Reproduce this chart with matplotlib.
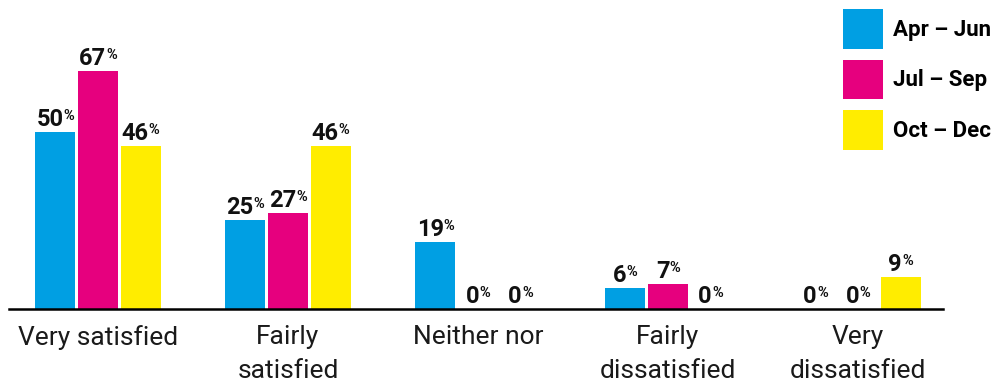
import matplotlib
matplotlib.use("Agg")
import matplotlib.pyplot as plt
from matplotlib.patches import Patch
import numpy as np

plt.rcParams['font.family'] = ['Roboto', 'DejaVu Sans']

# data
categories = ["Very satisfied", "Fairly\nsatisfied", "Neither nor", "Fairly\ndissatisfied", "Very\ndissatisfied"]
quarters = ["Apr \u2013 Jun", "Jul \u2013 Sep", "Oct \u2013 Dec"]
apr_jun = [50, 25, 19, 6, 0]
jul_sep = [67, 27, 0, 7, 0]
oct_dec = [46, 46, 0, 0, 9]
colours = ["#009FE3", "#E6007E", "#FFED00"]

series = [apr_jun, jul_sep, oct_dec]

fig = plt.figure(figsize=(10.08, 3.82), dpi=100)
# axes runs from the top of the figure down to the baseline
ax = fig.add_axes([0, 73 / 382, 1, 309 / 382])

x = np.arange(len(categories))
width = 0.21
step = 0.224

texts = []
for i, vals in enumerate(series):
    xs = x + (i - 1) * step
    ax.bar(xs, vals, width=width, color=colours[i], linewidth=0)
    for xx, v in zip(xs, vals):
        tn = ax.annotate(str(v), (xx, v), xytext=(0, 6), textcoords="offset pixels",
                         ha="center", va="baseline", fontsize=17, fontweight="bold",
                         color="#111111")
        tp = ax.annotate("%", (xx, v), xytext=(0, 13), textcoords="offset pixels",
                         ha="left", va="baseline", fontsize=10.5, fontweight="bold",
                         color="#111111")
        texts.append((tn, tp))

ax.set_xlim(-98 / 190, (1008 - 98) / 190)
ax.set_ylim(0, 309 / 3.55)

ax.axhline(0, xmin=9 / 1008, xmax=943 / 1008, color="black", lw=1.8, clip_on=False)

for s in ax.spines.values():
    s.set_visible(False)
ax.set_yticks([])
ax.set_xticks(x)
ax.set_xticklabels(categories, fontsize=19, fontweight="normal", color="#1a1a1a",
                   linespacing=1.55)
ax.tick_params(axis="x", length=0, pad=11.5)

# centre the number + superscript % together over each bar
fig.canvas.draw()
r = fig.canvas.get_renderer()
for tn, tp in texts:
    nw = tn.get_window_extent(r).width
    pw = tp.get_window_extent(r).width
    tn.xyann = (-pw / 2, 6)
    tp.xyann = ((nw - pw) / 2, 12)

handles = [Patch(facecolor=c, linewidth=0) for c in colours]
fig.legend(handles, quarters, loc="upper left", bbox_to_anchor=(843 / 1008, 1 - 9 / 382),
           frameon=False, borderpad=0, prop={"weight": "bold", "size": 16},
           handlelength=1.79, handleheight=2.36, handletextpad=0.45, labelspacing=0.5,
           borderaxespad=0)

fig.savefig("out.png", dpi=100)
